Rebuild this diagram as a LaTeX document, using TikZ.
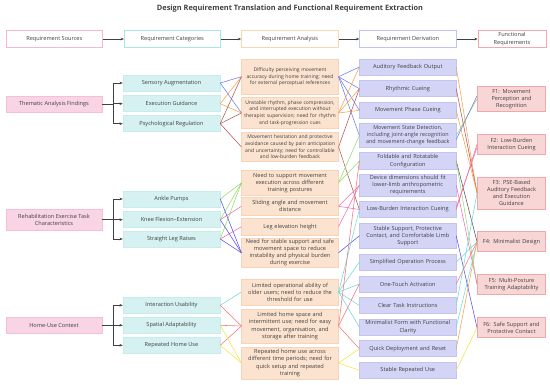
\documentclass[tikz,border=0pt]{standalone}
\usepackage{fontspec}
\setmainfont{Open Sans}
\usetikzlibrary{arrows.meta,calc}
\definecolor{txt}{HTML}{404040}
\definecolor{hSrc}{HTML}{F4B8D4}
\definecolor{hCat}{HTML}{A6E6E6}
\definecolor{hAna}{HTML}{F8D6AE}
\definecolor{hDer}{HTML}{C2C2F4}
\definecolor{hFun}{HTML}{F4A9A9}
\definecolor{srcF}{HTML}{F9D4E4}
\definecolor{srcB}{HTML}{F4C0D8}
\definecolor{catF}{HTML}{D6F1F1}
\definecolor{catB}{HTML}{C6ECEC}
\definecolor{anaF}{HTML}{FBE3CF}
\definecolor{anaB}{HTML}{F7D4B8}
\definecolor{derF}{HTML}{D4D4F7}
\definecolor{derB}{HTML}{C4C4F1}
\definecolor{funF}{HTML}{F9D6D6}
\definecolor{funB}{HTML}{F2A8A8}
\definecolor{blueL}{HTML}{6B7CF2}
\definecolor{orangeL}{HTML}{F5A34A}
\definecolor{brownL}{HTML}{B85450}
\definecolor{greenL}{HTML}{93DB6B}
\definecolor{pinkL}{HTML}{F06BB5}
\definecolor{purpleL}{HTML}{5B4FE6}
\definecolor{cyanL}{HTML}{6ED9D9}
\definecolor{redL}{HTML}{F27474}
\definecolor{yellowL}{HTML}{F5E443}
\definecolor{darkL}{HTML}{555555}
\begin{document}
\begin{tikzpicture}[x=1pt,y=-1pt,
  every node/.style={font=\fontsize{5.6}{7.1}\selectfont, text=txt, inner sep=0pt, align=center},
  small/.style={font=\fontsize{5.0}{6.7}\selectfont},
  hdr/.style={draw=#1, line width=0.8pt, fill=white, minimum height=17pt},
  srcbox/.style={draw=srcB, fill=srcF, line width=0.5pt, minimum width=96pt},
  catbox/.style={draw=catB, fill=catF, line width=0.5pt, minimum width=97pt, minimum height=16pt},
  anabox/.style={draw=anaB, fill=anaF, line width=0.5pt, minimum width=96.6pt, text width=96pt},
  derbox/.style={draw=derB, fill=derF, line width=0.5pt, minimum width=96.4pt, text width=96pt},
  funbox/.style={draw=funB, fill=funF, line width=0.5pt, minimum width=68.4pt, text width=68pt},
  harr/.style={draw=txt, line width=0.6pt, -{Stealth[length=3.2pt,width=2.6pt]}},
  conn/.style={line width=0.55pt}
]
\useasboundingbox (0,0) rectangle (550,384);
\node[font=\bfseries\fontsize{7.4}{9}\selectfont] (title) at (290,9) {Design Requirement Translation and Functional Requirement Extraction};

% headers
\node[hdr=hSrc, minimum width=96pt] (H1) at (54.3,39) {Requirement Sources};
\node[hdr=hCat, minimum width=96pt] (H2) at (172.3,39) {Requirement Categories};
\node[hdr=hAna, minimum width=96.7pt] (H3) at (289.9,39) {Requirement Analysis};
\node[hdr=hDer, minimum width=96.5pt] (H4) at (407.9,39) {Requirement Derivation};
\node[hdr=hFun, minimum width=68pt, text width=66pt] (H5) at (512,39) {Functional\\Requirements};
\draw[harr] (H1) -- (H2);
\draw[harr] (H2) -- (H3);
\draw[harr] (H3) -- (H4);
\draw[harr] (H4) -- (H5);

% sources
\node[srcbox, minimum height=16pt] (S1) at (54,104) {Thematic Analysis Findings};
\node[srcbox, minimum height=21pt] (S2) at (54,219.5) {Rehabilitation Exercise Task\\Characteristics};
\node[srcbox, minimum height=16pt] (S3) at (54,325.3) {Home-Use Context};

% categories
\node[catbox] (C1) at (171.5,83) {Sensory Augmentation};
\node[catbox] (C2) at (171.5,103.7) {Execution Guidance};
\node[catbox] (C3) at (171.5,123.7) {Psychological Regulation};
\node[catbox] (C4) at (171.5,199) {Ankle Pumps};
\node[catbox] (C5) at (171.5,219.7) {Knee Flexion–Extension};
\node[catbox] (C6) at (171.5,239) {Straight Leg Raises};
\node[catbox] (C7) at (171.5,305.3) {Interaction Usability};
\node[catbox] (C8) at (171.5,325.3) {Spatial Adaptability};
\node[catbox] (C9) at (171.5,345.3) {Repeated Home Use};

% analysis
\node[anabox, small, minimum height=35.3pt] (A1) at (290,76.7) {Difficulty perceiving movement\\accuracy during home training; need\\for external perceptual references};
\node[anabox, small, minimum height=30.6pt] (A2) at (290,113) {Unstable rhythm, phase compression,\\and interrupted execution without\\therapist supervision; need for rhythm\\and task-progression cues};
\node[anabox, small, minimum height=29.4pt] (A3) at (290,147) {Movement hesitation and protective\\avoidance caused by pain anticipation\\and uncertainty; need for controllable\\and low-burden feedback};
\node[anabox, minimum height=24.3pt] (A4) at (290,182.8) {Need to support movement\\execution across different\\training postures};
\node[anabox, minimum height=17.3pt] (A5) at (290,206.3) {Sliding angle and movement\\distance};
\node[anabox, minimum height=16.7pt] (A6) at (290,226.7) {Leg elevation height};
\node[anabox, minimum height=29pt] (A7) at (290,252.8) {Need for stable support and safe\\movement space to reduce\\instability and physical burden\\during exercise};
\node[anabox, minimum height=26pt] (A8) at (290,292) {Limited operational ability of\\older users; need to reduce the\\threshold for use};
\node[anabox, minimum height=34.3pt] (A9) at (290,326) {Limited home space and\\intermittent use; need for easy\\movement, organisation, and\\storage after training};
\node[anabox, minimum height=31.7pt] (A10) at (290,363) {Repeated home use across\\different time periods; need for\\quick setup and repeated\\training};

% derivation
\node[derbox, minimum height=16pt] (D1) at (407.8,67) {Auditory Feedback Output};
\node[derbox, minimum height=16pt] (D2) at (407.8,88.7) {Rhythmic Cueing};
\node[derbox, minimum height=16pt] (D3) at (407.8,110.3) {Movement Phase Cueing};
\node[derbox, font=\fontsize{5.4}{7}\selectfont, minimum height=24.4pt] (D4) at (407.8,135.5) {Movement State Detection,\\including joint-angle recognition\\and movement-change feedback};
\node[derbox, minimum height=16.6pt] (D5) at (407.8,161) {Foldable and Rotatable\\Configuration};
\node[derbox, minimum height=22.7pt] (D6) at (407.8,185.3) {Device dimensions should fit\\lower-limb anthropometric\\requirements};
\node[derbox, minimum height=15.6pt] (D7) at (407.8,209.5) {Low-Burden Interaction Cueing};
\node[derbox, minimum height=25pt] (D8) at (407.8,235.8) {Stable Support, Protective\\Contact, and Comfortable Limb\\Support};
\node[derbox, minimum height=16pt] (D9) at (407.8,262) {Simplified Operation Process};
\node[derbox, minimum height=16pt] (D10) at (407.8,284) {One-Touch Activation};
\node[derbox, minimum height=16pt] (D11) at (407.8,305.5) {Clear Task Instructions};
\node[derbox, minimum height=16pt] (D12) at (407.8,327) {Minimalist Form with Functional\\Clarity};
\node[derbox, minimum height=16pt] (D13) at (407.8,348.7) {Quick Deployment and Reset};
\node[derbox, minimum height=16pt] (D14) at (407.8,370.3) {Stable Repeated Use};

% functional
\node[funbox, minimum height=25.7pt] (F1) at (511.5,98.8) {F1: Movement\\Perception and\\Recognition};
\node[funbox, minimum height=20pt] (F2) at (511.5,144.3) {F2: Low-Burden\\Interaction Cueing};
\node[funbox, minimum height=31.7pt] (F3) at (511.5,193) {F3: PSE-Based\\Auditory Feedback\\and Execution\\Guidance};
\node[funbox, minimum height=20pt] (F4) at (511.5,241.7) {F4: Minimalist Design};
\node[funbox, minimum height=20pt] (F5) at (511.5,284.3) {F5: Multi-Posture\\Training Adaptability};
\node[funbox, minimum height=20pt] (F6) at (511.5,327.7) {F6: Safe Support and\\Protective Contact};

% source -> category elbows
\coordinate (J1) at (113,104);
\coordinate (J2) at (113,219.5);
\coordinate (J3) at (113,325.3);
\draw[draw=txt, line width=0.6pt] (S1.east) -- (J1);
\draw[draw=txt, line width=0.6pt] (S2.east) -- (J2);
\draw[draw=txt, line width=0.6pt] (S3.east) -- (J3);
\foreach \j/\c in {J1/C1,J1/C2,J1/C3,J2/C4,J2/C5,J2/C6,J3/C7,J3/C8,J3/C9}
  \draw[harr] (\j) |- (\c.west);

% category -> analysis
\foreach \a/\b/\col in {C1/A1/blueL,C1/A2/blueL,C2/A1/orangeL,C2/A2/orangeL,C3/A1/brownL,C3/A2/brownL,C3/A3/brownL,
  C4/A4/greenL,C5/A4/greenL,C6/A4/greenL,C5/A5/pinkL,C6/A6/pinkL,C4/A7/purpleL,C5/A7/purpleL,C6/A7/purpleL,
  C7/A8/cyanL,C7/A9/redL,C8/A9/redL,C9/A9/redL,C8/A10/yellowL,C9/A10/yellowL}
  \draw[conn, draw=\col] (\a.east) -- (\b.west);

% analysis -> derivation
\foreach \a/\b/\col in {A1/D1/blueL,A1/D2/blueL,A1/D3/blueL,A1/D4/blueL,A2/D1/orangeL,A2/D2/orangeL,A2/D3/orangeL,
  A3/D2/brownL,A3/D7/brownL,A4/D4/greenL,A4/D5/greenL,A5/D6/pinkL,A6/D6/pinkL,A5/D7/pinkL,A7/D8/purpleL,
  A8/D7/cyanL,A8/D9/cyanL,A8/D10/cyanL,A8/D11/cyanL,A8/D12/cyanL,
  A9/D5/redL,A9/D10/redL,A9/D13/redL,A10/D13/yellowL,A10/D14/yellowL}
  \draw[conn, draw=\col] (\a.east) -- (\b.west);

% derivation -> functional
\foreach \a/\b/\col in {D1/F3/orangeL,D2/F3/brownL,D3/F3/orangeL,D4/F1/greenL,D5/F4/darkL,D5/F5/greenL,
  D6/F5/pinkL,D7/F2/redL,D8/F6/purpleL,D9/F4/cyanL,D10/F4/redL,D11/F3/cyanL,D12/F4/cyanL,
  D13/F4/orangeL,D14/F6/yellowL}
  \draw[conn, draw=\col] (\a.east) -- (\b.west);
\draw[conn, draw=blueL] ([yshift=-4pt]D4.east) -- ([yshift=3pt]F1.west);
\draw[conn, draw=pinkL] ([yshift=2pt]D7.east) -- ([yshift=-3pt]F2.west);
\end{tikzpicture}
\end{document}
